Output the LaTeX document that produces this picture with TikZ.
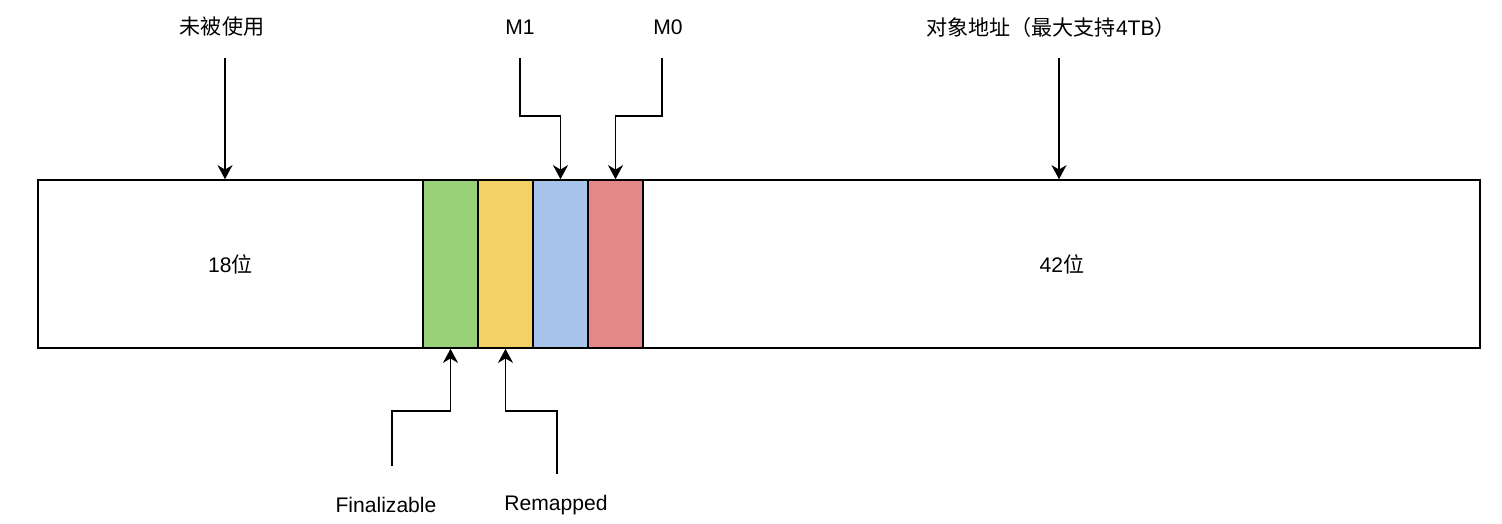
\documentclass[tikz,border=0pt]{standalone}
\usepackage{fontspec}
\setmainfont{Liberation Sans}
\newfontfamily\cjk{Noto Sans CJK SC}
\usetikzlibrary{arrows.meta}
\definecolor{finGreen}{HTML}{99D179}
\definecolor{remYellow}{HTML}{F4D164}
\definecolor{mOneBlue}{HTML}{A9C4EA}
\definecolor{mZeroRed}{HTML}{E28888}

\begin{document}
\begin{tikzpicture}[x=0.02cm, y=-0.02cm,
    cell/.style={draw, line width=0.9pt, inner sep=0pt, minimum height=3.36cm},
    lbl/.style={font=\fontsize{12}{14}\selectfont},
    arr/.style={line width=1pt, -{Stealth[length=8pt,width=8.5pt,inset=2.5pt]}}]
\useasboundingbox (0,0) rectangle (1502,524);
\node[cell, minimum width=7.7cm] (unused) at (230.5,264) {};
\node[cell, minimum width=1.1cm, fill=finGreen] (fin) at (450.5,264) {};
\node[cell, minimum width=1.1cm, fill=remYellow] (rem) at (505.5,264) {};
\node[cell, minimum width=1.1cm, fill=mOneBlue] (m1) at (560.5,264) {};
\node[cell, minimum width=1.1cm, fill=mZeroRed] (m0) at (615.5,264) {};
\node[cell, minimum width=16.74cm] (addr) at (1061.5,264) {};
\node[lbl] at (unused) {18{\cjk 位}};
\node[lbl] at (1062,264) {42{\cjk 位}};
\node[lbl] (lblUnused) at (222,27) {\cjk 未被使用};
\node[lbl] (lblM1) at (520,27) {M1};
\node[lbl] (lblM0) at (668,27) {M0};
\node[lbl] (lblAddr) at (1051,27) {{\cjk 对象地址（最大支持}4TB{\cjk ）}};
\node[lbl] (lblFin) at (386,505) {Finalizable};
\node[lbl] (lblRem) at (556,505) {Remapped};
\coordinate (unusedTop) at (225,58);
\coordinate (m1Top) at (520,58);
\coordinate (m0Top) at (662,58);
\coordinate (addrTop) at (1059,58);
\coordinate (finBot) at (392,466);
\coordinate (remBot) at (557,474);
\draw[arr] (unusedTop) -- (unusedTop |- unused.north);
\draw[arr] (m1Top) -- ++(0,58) -| (m1.north);
\draw[arr] (m0Top) -- ++(0,58) -| (m0.north);
\draw[arr] (addrTop) -- (addrTop |- addr.north);
\draw[arr] (finBot) -- ++(0,-55) -| (fin.south);
\draw[arr] (remBot) -- ++(0,-63) -| (rem.south);
\end{tikzpicture}
\end{document}
